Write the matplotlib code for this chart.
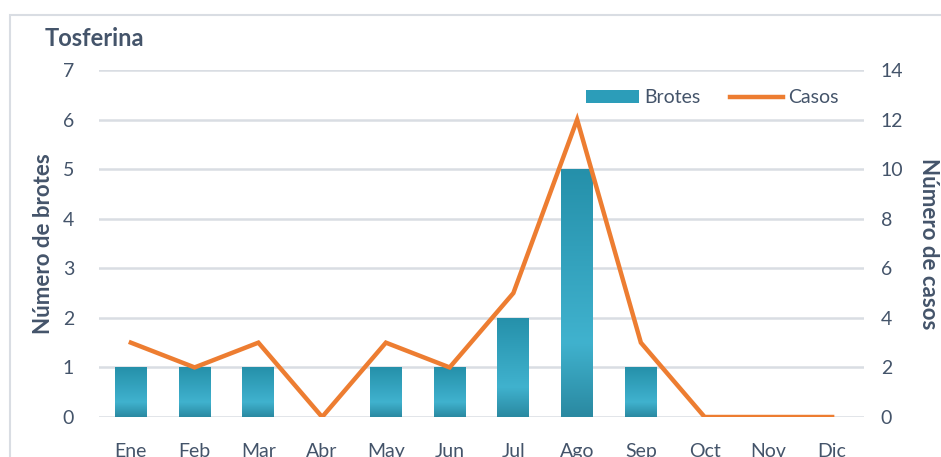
import matplotlib
matplotlib.use("Agg")
from matplotlib import pyplot as plt
from matplotlib.colors import LinearSegmentedColormap
from matplotlib.patches import Patch, Rectangle
from matplotlib.lines import Line2D
import numpy as np

meses = ['Ene', 'Feb', 'Mar', 'Abr', 'May', 'Jun', 'Jul', 'Ago', 'Sep', 'Oct', 'Nov', 'Dic']
brotes = [1, 1, 1, 0, 1, 1, 2, 5, 1, 0, 0, 0]
casos = [3, 2, 3, 0, 3, 2, 5, 12, 3, 0, 0, 0]

plt.rcParams['font.family'] = ['Lato', 'DejaVu Sans']
txt = '#44546A'
grid = '#D9DDE3'

fig = plt.figure(figsize=(9.41, 4.57), dpi=100)
ax = fig.add_axes([99 / 941, 40 / 457, 765 / 941, 347 / 457])
ax2 = ax.twinx()

x = np.arange(len(meses))
bars = ax.bar(x, brotes, width=0.5, color='none', zorder=2)

# vertical gradient inside each bar
cmap = LinearSegmentedColormap.from_list(
    'brotes', [(0, '#2590AA'), (0.7, '#40B2CE'), (1, '#2A89A1')])
grad = np.linspace(0, 1, 256).reshape(-1, 1)
for b in bars:
    h = b.get_height()
    if h <= 0:
        continue
    x0 = b.get_x()
    im = ax.imshow(grad, cmap=cmap, aspect='auto', zorder=2,
                   extent=[x0, x0 + b.get_width(), 0, h], origin='upper')
    im.set_clip_path(b)

ax2.plot(x, casos, color='#ED7D31', lw=3.2, solid_joinstyle='miter', zorder=3)

ax.set_xlim(-0.5, len(meses) - 0.5)
ax.set_ylim(0, 7)
ax2.set_ylim(0, 14)
ax.set_yticks(range(0, 8))
ax2.set_yticks(range(0, 15, 2))
ax.set_xticks(x)
ax.set_xticklabels(meses)
ax.set_aspect('auto')

ax.yaxis.grid(True, color=grid, lw=1.8, zorder=0)
ax.set_axisbelow(True)
for a in (ax, ax2):
    for s in a.spines.values():
        s.set_visible(False)
    a.tick_params(length=0, labelsize=14, labelcolor=txt)
ax.tick_params(axis='y', pad=18)
ax2.tick_params(axis='y', pad=12)
ax.tick_params(axis='x', pad=19)

ax.set_ylabel('Número de brotes', fontsize=16, fontweight='bold', color=txt, labelpad=6)
ax2.set_ylabel('Número de casos', fontsize=16, fontweight='bold', color=txt,
               rotation=-90, labelpad=26)

fig.text(45 / 941, 1 - 38 / 457, 'Tosferina', fontsize=17, fontweight='bold',
         color=txt, va='center', ha='left')

handles = [Patch(facecolor='#2C9DB9', edgecolor='none'),
           Line2D([0], [0], color='#ED7D31', lw=3.2)]
ax2.legend(handles, ['Brotes', 'Casos'], loc='upper right', bbox_to_anchor=(0.99, 0.995),
           ncol=2, frameon=False, fontsize=14, handlelength=2.7, handleheight=0.6,
           columnspacing=1.5, handletextpad=0.3, labelcolor=txt)

fig.patches.append(Rectangle((10 / 941, -0.1), 1.1, 1 - 15 / 457 + 0.1,
                             transform=fig.transFigure, fill=False,
                             edgecolor='#D9DDE3', lw=1.5))

fig.savefig('out.png', dpi=100)
